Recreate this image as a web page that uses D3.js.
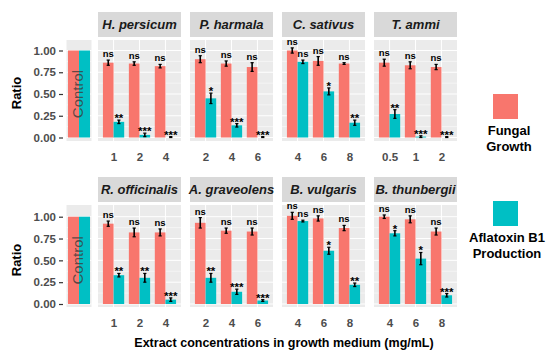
<!DOCTYPE html>
<html><head><meta charset="utf-8">
<script src="https://cdn.jsdelivr.net/npm/d3@7"></script>
<style>body{margin:0;background:#fff}svg{display:block;font-family:"Liberation Sans",Arial,sans-serif}</style>
</head><body><svg id="c" width="550" height="357"></svg>
<script>
const panels = ["H. persicum","P. harmala","C. sativus","T. ammi","R. officinalis","A. graveolens","B. vulgaris","B. thunbergii"];
const concLabels = [["1","2","4"],["2","4","6"],["4","6","8"],["0.5","1","2"],["1","2","4"],["2","4","6"],["4","6","8"],["4","6","8"]];
const fungal = [[0.86,0.85,0.82],[0.90,0.85,0.81],[1.00,0.88,0.85],[0.86,0.83,0.81],[0.92,0.82,0.82],[0.93,0.84,0.83],[1.01,0.98,0.87],[1.00,0.97,0.83]];
const fungalErr = [[0.03,0.02,0.02],[0.04,0.03,0.05],[0.03,0.05,0.01],[0.04,0.04,0.03],[0.03,0.05,0.04],[0.06,0.03,0.04],[0.04,0.03,0.03],[0.02,0.04,0.04]];
const aflatoxin = [[0.18,0.03,0.00],[0.45,0.14,0.00],[0.87,0.53,0.17],[0.27,0.01,0.00],[0.33,0.30,0.05],[0.30,0.14,0.04],[0.95,0.61,0.22],[0.81,0.52,0.10]];
const aflatoxinErr = [[0.02,0.02,0.01],[0.06,0.02,0.01],[0.02,0.04,0.03],[0.05,0.01,0.01],[0.02,0.05,0.02],[0.05,0.03,0.01],[0.01,0.04,0.02],[0.03,0.07,0.02]];
const fungalSig = [["ns","ns","ns"],["ns","ns","ns"],["ns","ns","ns"],["ns","ns","ns"],["ns","ns","ns"],["ns","ns","ns"],["ns","ns","ns"],["ns","ns","ns"]];
const aflatoxinSig = [["**","***","***"],["*","***","***"],["ns","*","**"],["**","***","***"],["**","**","***"],["**","***","***"],["ns","*","**"],["*","*","***"]];
const yTicks = [0,0.25,0.5,0.75,1];
const seriesNames = ["Fungal\nGrowth","Aflatoxin B1\nProduction"];
const colors = ["#F8766D","#00BFC4"];

const svg = d3.select("#c");
const rows = [
  {strip:[12,37], panel:[40,141], y:d3.scaleLinear().domain([0,1]).range([137.5,50.5]), tickY:157},
  {strip:[177,202], panel:[205,307], y:d3.scaleLinear().domain([0,1]).range([304,216.7]), tickY:323}
];
const colX = [98,190,282,374], panelW = 83;
const txtGrey = "#4D4D4D";

function gridAndBg(g, x0, x1, row){
  g.append("rect").attr("x",x0).attr("y",row.panel[0]).attr("width",x1-x0).attr("height",row.panel[1]-row.panel[0]).attr("fill","#EBEBEB");
  const minor = [0.125,0.375,0.625,0.875];
  minor.forEach(v=>g.append("line").attr("x1",x0).attr("x2",x1).attr("y1",row.y(v)).attr("y2",row.y(v)).attr("stroke","#fff").attr("stroke-width",0.5));
  yTicks.forEach(v=>g.append("line").attr("x1",x0).attr("x2",x1).attr("y1",row.y(v)).attr("y2",row.y(v)).attr("stroke","#fff").attr("stroke-width",1));
}

rows.forEach((row,ri)=>{
  const yAxis = d3.axisLeft(row.y).tickValues(yTicks).tickFormat(d3.format(".2f")).tickSize(4).tickPadding(3);
  const ga = svg.append("g").attr("transform","translate(63,0)").call(yAxis);
  ga.select(".domain").remove();
  ga.selectAll(".tick line").attr("stroke","#333").attr("stroke-width",1.2);
  ga.selectAll(".tick text").attr("fill",txtGrey).attr("font-size",11.5).attr("font-weight","bold").attr("font-family","Liberation Sans, Arial, sans-serif");
  const cg = svg.append("g");
  gridAndBg(cg, 66.5, 91.5, row);
  const cx = d3.scaleBand().domain(["f","a"]).range([68,90]).padding(0);
  cg.append("rect").attr("x",cx("f")).attr("width",cx.bandwidth()).attr("y",row.y(1)).attr("height",row.y(0)-row.y(1)).attr("fill",colors[0]);
  cg.append("rect").attr("x",cx("a")).attr("width",cx.bandwidth()).attr("y",row.y(1)).attr("height",row.y(0)-row.y(1)).attr("fill",colors[1]);
  cg.append("text").attr("transform",`translate(83,${(row.y(0)+row.y(1))/2}) rotate(-90)`).attr("text-anchor","middle")
    .attr("font-size",15).attr("fill","#3a3a3a").attr("fill-opacity",0.8).text("Control");
  svg.append("text").attr("transform",`translate(21,${ri===0?93:260}) rotate(-90)`).attr("text-anchor","middle")
    .attr("font-size",13).attr("font-weight","bold").attr("fill","#000").text("Ratio");
});

panels.forEach((name,i)=>{
  const row = rows[Math.floor(i/4)], x0 = colX[i%4], x1 = x0+panelW;
  const y = row.y;
  const g = svg.append("g");
  g.append("rect").attr("x",x0).attr("y",row.strip[0]).attr("width",panelW).attr("height",row.strip[1]-row.strip[0]).attr("fill","#D9D9D9");
  g.append("text").attr("x",(x0+x1)/2).attr("y",(row.strip[0]+row.strip[1])/2+4.5).attr("text-anchor","middle")
    .attr("font-size",13).attr("font-weight","bold").attr("font-style","italic").attr("fill","#1A1A1A").text(name);
  gridAndBg(g, x0, x1, row);
  const x = d3.scalePoint().domain(concLabels[i]).range([x0,x1]).padding(0.6);
  const step = x.step(), bw = step*0.41;
  concLabels[i].forEach(c=>g.append("line").attr("x1",x(c)).attr("x2",x(c)).attr("y1",row.panel[0]).attr("y2",row.panel[1]).attr("stroke","#fff").attr("stroke-width",1));
  const series = [
    {vals:fungal[i], err:fungalErr[i], sig:fungalSig[i], col:colors[0], off:-bw},
    {vals:aflatoxin[i], err:aflatoxinErr[i], sig:aflatoxinSig[i], col:colors[1], off:0}
  ];
  series.forEach(s=>{
    concLabels[i].forEach((c,k)=>{
      const bx = x(c)+s.off, v = s.vals[k], e = s.err[k];
      g.append("rect").attr("x",bx).attr("width",bw).attr("y",y(Math.max(v,0))).attr("height",Math.max(0,y(0)-y(v))).attr("fill",s.col);
      const cxm = bx+bw/2;
      const lo = Math.max(0,v-e), hi = v+e;
      g.append("line").attr("x1",cxm).attr("x2",cxm).attr("y1",y(lo)).attr("y2",y(hi)).attr("stroke","#000").attr("stroke-width",1.6);
      [lo,hi].forEach(t=>g.append("line").attr("x1",cxm-1.6).attr("x2",cxm+1.6).attr("y1",y(t)).attr("y2",y(t)).attr("stroke","#000").attr("stroke-width",1.2));
      const isStar = s.sig[k] !== "ns";
      g.append("text").attr("x",cxm).attr("y",y(hi)-(isStar?-2:3)).attr("text-anchor","middle")
        .attr("font-size",isStar?11.5:9.5).attr("font-weight","bold").attr("fill","#000").text(s.sig[k]);
    });
  });
  const xa = d3.axisBottom(x).tickSize(0).tickPadding(0);
  const gx = svg.append("g").attr("transform",`translate(0,${row.tickY-4})`).call(xa);
  gx.select(".domain").remove();
  gx.selectAll(".tick text").attr("fill",txtGrey).attr("font-size",11.5).attr("font-weight","bold").attr("dy","0.71em").attr("font-family","Liberation Sans, Arial, sans-serif");
});

svg.append("text").attr("x",284).attr("y",347).attr("text-anchor","middle").attr("font-size",12.5).attr("font-weight","bold").attr("fill","#000")
  .text("Extract concentrations in growth medium (mg/mL)");

const legY = [94,201];
seriesNames.forEach((nm,i)=>{
  svg.append("rect").attr("x",493).attr("y",legY[i]).attr("width",25).attr("height",25).attr("fill",colors[i]);
  nm.split("\n").forEach((ln,j)=>{
    svg.append("text").attr("x",i===0?509:507).attr("y",legY[i]+41+j*16).attr("text-anchor","middle")
      .attr("font-size",13).attr("font-weight","bold").attr("fill","#000").text(ln);
  });
});
</script></body></html>
